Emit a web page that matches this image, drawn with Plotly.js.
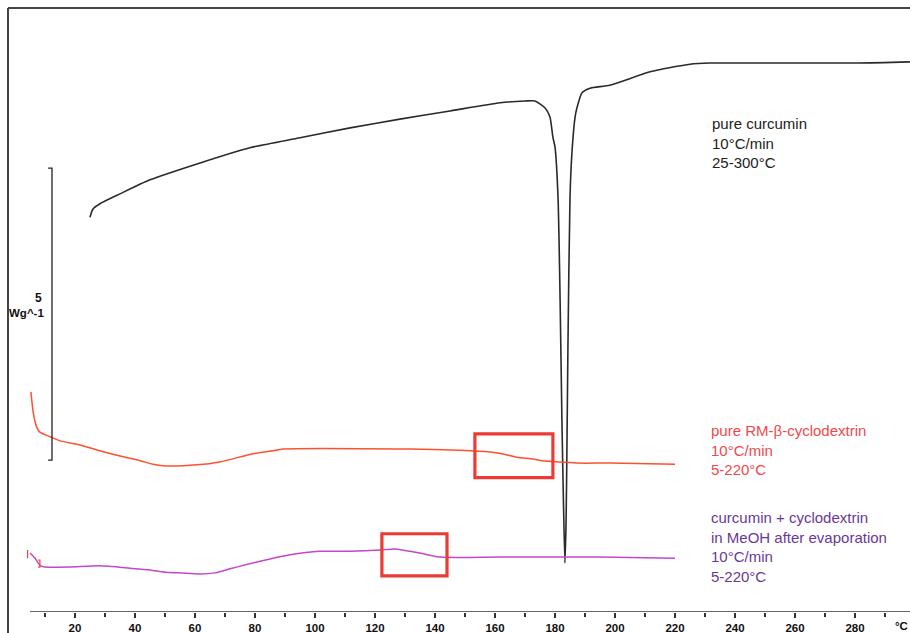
<!DOCTYPE html>
<html>
<head>
<meta charset="utf-8">
<script src="https://cdn.plot.ly/plotly-3.0.1.min.js"></script>
<style>html,body{margin:0;padding:0;background:#fff;}#chart{width:910px;height:633px;}</style>
</head>
<body>
<div id="chart"></div>
<script>
// Temperature (°C) and heat flow (W/g, offset curves as stacked in the figure)
const curcuminT = [25, 26, 28.3, 35, 45, 61.7, 78.3, 95, 111.7, 128.3, 145, 161.7, 170, 173.3, 176.7, 178.3, 179.3, 180, 181, 181.7, 182.3, 182.8, 183.3, 183.7, 184, 184.3, 185, 185.7, 186.7, 187.3, 189, 191.7, 198.3, 211.7, 225, 231.7, 280.7, 298.3];
const curcuminHF = [6.76, 6.90, 6.99, 7.16, 7.40, 7.69, 7.95, 8.12, 8.29, 8.44, 8.58, 8.72, 8.75, 8.75, 8.63, 8.48, 8.13, 7.96, 7.11, 5.34, 3.29, 1.92, 0.84, 1.58, 2.95, 4.49, 7.11, 7.91, 8.48, 8.63, 8.89, 8.97, 9.02, 9.25, 9.38, 9.40, 9.40, 9.42];

const cdT = [5.3, 6.1, 7.2, 8.3, 11.7, 15, 21.7, 28.3, 35, 41.7, 46, 50.7, 60.7, 68.3, 79.3, 86, 89.3, 131.7, 148.3, 158.3, 162.3, 167.3, 172.7, 175.7, 181.7, 187.7, 198.3, 220];
const cdHF = [3.77, 3.41, 3.17, 3.08, 3.00, 2.93, 2.86, 2.76, 2.67, 2.59, 2.53, 2.50, 2.52, 2.57, 2.71, 2.76, 2.79, 2.79, 2.77, 2.74, 2.71, 2.65, 2.62, 2.59, 2.57, 2.55, 2.55, 2.53];

const mixT = [5, 6.7, 8.3, 10, 18.3, 28.3, 38.3, 45, 50, 55, 61.7, 66.7, 71.7, 81.7, 91.7, 101.7, 111.7, 121.7, 126.7, 131.7, 136.7, 141.7, 161.7, 195, 220];
const mixHF = [1.01, 0.92, 0.80, 0.77, 0.77, 0.79, 0.75, 0.72, 0.68, 0.67, 0.65, 0.67, 0.74, 0.87, 0.98, 1.04, 1.04, 1.06, 1.08, 1.04, 0.99, 0.94, 0.94, 0.94, 0.92];

// small red start markers near the mixture curve
const markT = [4.2, 4.2, null, 7.7, 8.3, 8.3, 7.7];
const markHF = [1.06, 0.92, null, 0.89, 0.89, 0.77, 0.77];

// scale bar: 5 W/g
const scaleValue = 5;
const scaleTop = 7.6;
const scaleX = 12.33;

// highlighted regions [T0, T1, HF0, HF1]
const box1 = [153.3, 179.3, 2.30, 3.05];
const box2 = [122.3, 144.0, 0.62, 1.34];

// tick labels
const majorTicks = [20, 40, 60, 80, 100, 120, 140, 160, 180, 200, 220, 240, 260, 280];
const minorTicks = [10, 30, 50, 70, 90, 110, 130, 150, 170, 190, 210, 230, 250, 270, 290];

const labels = {
  curcumin: 'pure curcumin<br>10°C/min<br>25-300°C',
  cd: 'pure RM-β-cyclodextrin<br>10°C/min<br>5-220°C',
  mix: 'curcumin + cyclodextrin<br>in MeOH after evaporation<br>10°C/min<br>5-220°C'
};

const W = 910, H = 633, B = 21, PH = H - B;
const px = x => x / W;
const py = y => (PH - y) / PH;
const boldFont = 'Liberation Sans Narrow, Arial Narrow, Liberation Sans, Arial';

const traces = [
  {x: curcuminT, y: curcuminHF, mode: 'lines', line: {color: '#2a2a2a', width: 1.6, shape: 'spline', smoothing: 0.6}, hoverinfo: 'skip'},
  {x: cdT, y: cdHF, mode: 'lines', line: {color: '#ff5030', width: 1.5, shape: 'spline', smoothing: 0.6}, hoverinfo: 'skip'},
  {x: mixT, y: mixHF, mode: 'lines', line: {color: '#c248c8', width: 1.5, shape: 'spline', smoothing: 0.6}, hoverinfo: 'skip'},
  {x: markT, y: markHF, mode: 'lines', line: {color: '#ff4030', width: 1.2}, connectgaps: false, hoverinfo: 'skip'},
  {x: [scaleX - 1.3, scaleX, scaleX, scaleX - 1.3], y: [scaleTop, scaleTop, scaleTop - scaleValue, scaleTop - scaleValue],
   mode: 'lines', line: {color: '#222', width: 1.3}, hoverinfo: 'skip'}
];

const boxShape = b => ({type: 'rect', xref: 'x', yref: 'y', x0: b[0], x1: b[1], y0: b[2], y1: b[3],
  line: {color: '#ec3b35', width: 3.2}, fillcolor: 'rgba(0,0,0,0)'});

const layout = {
  width: W, height: H,
  margin: {l: 0, r: 0, t: 0, b: B, pad: 0},
  paper_bgcolor: '#fff', plot_bgcolor: '#fff',
  showlegend: false,
  xaxis: {
    range: [-5, 298.33], showgrid: false, zeroline: false, showline: false,
    tickmode: 'array', tickvals: majorTicks, ticktext: majorTicks.map(String),
    ticks: 'outside', ticklen: 5, tickwidth: 1.5, tickcolor: '#333',
    minor: {tickmode: 'array', tickvals: minorTicks, ticks: 'outside', ticklen: 4, tickwidth: 1.3, tickcolor: '#333', showgrid: false},
    ticklabelstandoff: 0,
    tickfont: {family: boldFont, size: 11.5, color: '#111', weight: 'bold'}
  },
  yaxis: {range: [0, PH / 58.4], visible: false, showgrid: false, zeroline: false},
  shapes: [
    {type: 'line', xref: 'x', yref: 'y', x0: 5, x1: 298.33, y0: 0, y1: 0, line: {color: '#333', width: 1.6}},
    {type: 'line', xref: 'paper', yref: 'paper', x0: px(8), x1: px(8), y0: py(H), y1: py(8), line: {color: '#444', width: 2}},
    {type: 'line', xref: 'paper', yref: 'paper', x0: px(8), x1: 1, y0: py(8), y1: py(8), line: {color: '#444', width: 2}},
    boxShape(box1), boxShape(box2)
  ],
  annotations: [
    {xref: 'paper', yref: 'paper', x: px(710), y: py(143), xanchor: 'left', yanchor: 'middle', align: 'left', showarrow: false,
     text: labels.curcumin, font: {family: 'Liberation Sans, Arial', size: 15, color: '#222'}},
    {xref: 'paper', yref: 'paper', x: px(709), y: py(449.5), xanchor: 'left', yanchor: 'middle', align: 'left', showarrow: false,
     text: labels.cd, font: {family: 'Liberation Sans, Arial', size: 15, color: '#f2484c'}},
    {xref: 'paper', yref: 'paper', x: px(709), y: py(547), xanchor: 'left', yanchor: 'middle', align: 'left', showarrow: false,
     text: labels.mix, font: {family: 'Liberation Sans, Arial', size: 15, color: '#6a3898'}},
    {xref: 'paper', yref: 'paper', x: px(44), y: py(298), xanchor: 'right', yanchor: 'middle', showarrow: false,
     text: String(scaleValue), font: {family: boldFont, size: 12, color: '#111', weight: 'bold'}},
    {xref: 'paper', yref: 'paper', x: px(46), y: py(313), xanchor: 'right', yanchor: 'middle', showarrow: false,
     text: 'Wg^-1', font: {family: boldFont, size: 11.5, color: '#111', weight: 'bold'}},
    {xref: 'paper', yref: 'paper', x: 1, y: py(626), xanchor: 'right', yanchor: 'middle', showarrow: false,
     text: '°C', font: {family: boldFont, size: 11.5, color: '#111', weight: 'bold'}}
  ]
};

Plotly.newPlot('chart', traces, layout, {staticPlot: true, displayModeBar: false});
</script>
</body>
</html>
